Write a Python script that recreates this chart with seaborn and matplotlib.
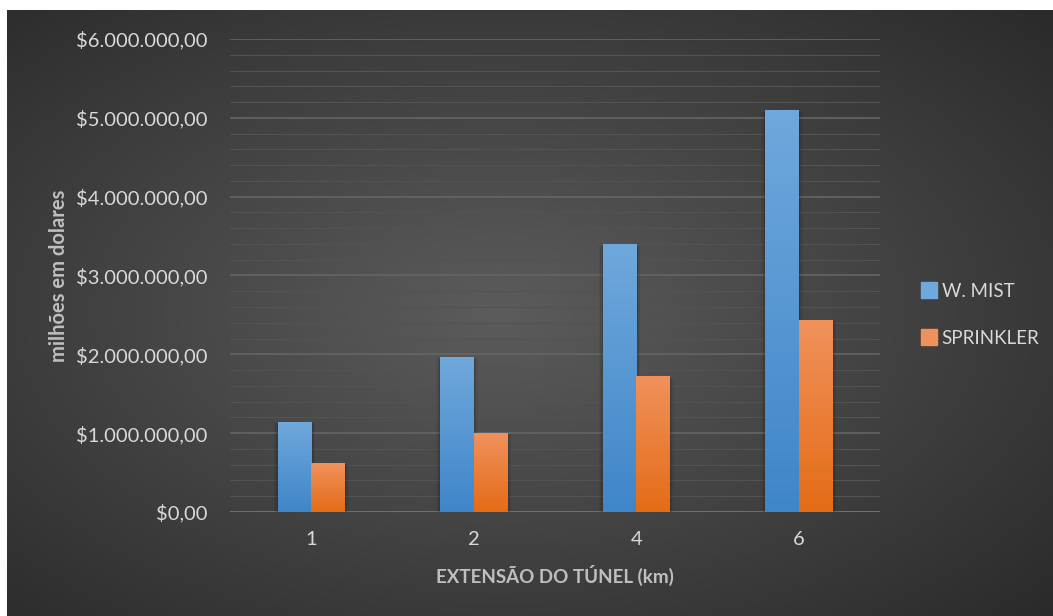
import matplotlib
matplotlib.use("Agg")
import matplotlib.pyplot as plt
import matplotlib.ticker as mticker
from matplotlib.lines import Line2D
import seaborn as sns
import numpy as np
import pandas as pd

# data
extensao = ["1", "2", "4", "6"]
w_mist = [1140000, 1965000, 3390000, 5090000]
sprinkler = [620000, 1000000, 1715000, 2435000]
series = ["W. MIST", "SPRINKLER"]

colors = {"W. MIST": "#5b9bd5", "SPRINKLER": "#ed7d31"}
grad = {"W. MIST": ("#6fa8dc", "#3f86c9"), "SPRINKLER": ("#f0915c", "#e46c16")}

df = pd.DataFrame({
    "extensao": extensao * 2,
    "valor": w_mist + sprinkler,
    "serie": [series[0]] * len(extensao) + [series[1]] * len(extensao),
})

sns.set_theme(style="dark")
plt.rcParams['font.family'] = ['Lato', 'DejaVu Sans']

fig = plt.figure(figsize=(10.53, 6.16), dpi=100)
fig.patch.set_facecolor("white")

# radial dark background
bg = fig.add_axes([7 / 1053, 0, 1 - 7 / 1053, 1 - 10 / 616])
yy, xx = np.mgrid[0:1:300j, 0:1:500j]
r = np.sqrt(((xx - 0.47) / 0.75) ** 2 + ((yy - 0.5) / 0.75) ** 2)
r = np.clip(r, 0, 1)
img = 0.36 - 0.2 * r
bg.imshow(np.dstack([img, img, img]), aspect="auto", extent=(0, 1, 0, 1))
bg.set_axis_off()

ax = fig.add_axes([230 / 1053, 104 / 616, 650 / 1053, 473 / 616])
ax.set_facecolor("none")
sns.barplot(data=df, x="extensao", y="valor", hue="serie", palette=colors,
            width=0.41, gap=0, saturation=1, ax=ax, legend=False, zorder=3,
            linewidth=0, edgecolor="none")

ax.yaxis.set_major_locator(mticker.MultipleLocator(1000000))
ax.yaxis.set_minor_locator(mticker.MultipleLocator(200000))
ax.yaxis.set_major_formatter(mticker.FuncFormatter(
    lambda v, p: "$" + f"{v:,.2f}".replace(",", "X").replace(".", ",").replace("X", ".")))
ax.grid(axis="y", which="major", color="#656565", linewidth=1.2, zorder=0)
ax.grid(axis="y", which="minor", color="#535353", linewidth=0.8, zorder=0)
ax.grid(axis="x", visible=False)
ax.axhline(0, color="#707070", linewidth=1.4, zorder=2)
for s in ax.spines.values():
    s.set_visible(False)
ax.tick_params(axis="both", which="both", length=0, colors="#d9d9d9", labelsize=14.5)
ax.tick_params(axis="y", pad=16)
ax.tick_params(axis="x", pad=14)

# gradient fill + soft shadow on each bar
for i, patch in enumerate(ax.patches[:len(df)]):
    serie = series[i // len(extensao)]
    x, w, h = patch.get_x(), patch.get_width(), patch.get_height()
    top, bot = matplotlib.colors.to_rgb(grad[serie][0]), matplotlib.colors.to_rgb(grad[serie][1])
    t = np.linspace(0, 1, 100)[:, None]
    g = np.array(top) * (1 - t) + np.array(bot) * t
    ax.imshow(g[:, None, :], aspect="auto", extent=(x, x + w, 0, h), zorder=4)
    for k, a in [(0.025, 0.06), (0.016, 0.08), (0.008, 0.10)]:
        ax.add_patch(plt.Rectangle((x - k, -25000), w + 2 * k, h + 10000,
                                   color="black", alpha=a, zorder=2.5, linewidth=0))
ax.set_ylim(0, 6000000)
ax.set_xlim(-0.5, 3.5)

ax.set_xlabel("EXTENSÃO DO TÚNEL (km)", color="#bfbfbf", fontsize=13.5,
              fontweight="bold", labelpad=12)
ax.set_ylabel("milhões em dolares", color="#bfbfbf", fontsize=14.5,
              fontweight="bold", labelpad=5)

handles = [Line2D([0], [0], marker="s", linestyle="", markersize=11,
                  markerfacecolor=grad[s][0], markeredgecolor=grad[s][0]) for s in series]
leg = fig.legend(handles, series, loc="center left", bbox_to_anchor=(904 / 1053, 1 - 315 / 616),
                 frameon=False, fontsize=13.5, labelspacing=1.6, handletextpad=0.2,
                 handlelength=0.9)
for txt in leg.get_texts():
    txt.set_color("#d9d9d9")

fig.savefig("out.png", dpi=100, facecolor=fig.get_facecolor())
